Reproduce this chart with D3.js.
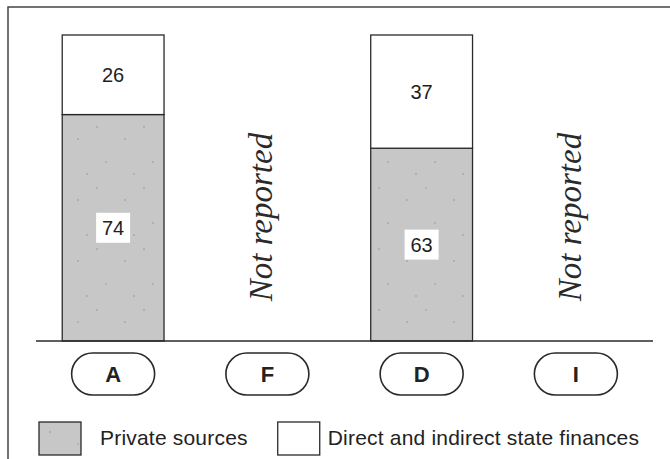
<!DOCTYPE html>
<html>
<head>
<meta charset="utf-8">
<script src="https://cdn.jsdelivr.net/npm/d3@7"></script>
<style>
  html, body { margin: 0; padding: 0; background: #fff; }
  svg { display: block; }
</style>
</head>
<body>
<div id="chart"></div>
<script>
const categories = ['A', 'F', 'D', 'I'];
const privateShare = [74, null, 63, null];
const stateShare = [26, null, 37, null];
const missingLabel = 'Not reported';
const legendLabels = ['Private sources', 'Direct and indirect state finances'];

const W = 670, H = 459;
const ink = '#2a2a2a';
const grey = '#c7c7c7';

const svg = d3.select('#chart').append('svg')
  .attr('width', W).attr('height', H);

// speckled grey fill like the scanned print
const defs = svg.append('defs');
const pat = defs.append('pattern')
  .attr('id', 'speck').attr('patternUnits', 'userSpaceOnUse')
  .attr('width', 47).attr('height', 61);
pat.append('rect').attr('width', 47).attr('height', 61).attr('fill', grey);
[[3, 5], [31, 17], [12, 40], [40, 52]].forEach(([cx, cy]) => {
  pat.append('circle').attr('cx', cx).attr('cy', cy).attr('r', 0.7).attr('fill', '#8a8a8a');
});

// frame (top and left only)
svg.append('path')
  .attr('d', `M8,${H} V7 H${W}`)
  .attr('fill', 'none').attr('stroke', '#444').attr('stroke-width', 1.5);

const x = d3.scaleBand().domain(categories).range([36, 653]);
const y = d3.scaleLinear().domain([0, 100]).range([341, 35]);
const barW = x.bandwidth() * 0.66;

const rows = categories.map((c, i) => ({ cat: c, priv: privateShare[i], state: stateShare[i] }));
const reported = rows.filter(d => d.priv != null);
const missing = rows.filter(d => d.priv == null);

const bx = d => x(d.cat) + (x.bandwidth() - barW) / 2;
const cx = d => x(d.cat) + x.bandwidth() / 2;

// private part
svg.selectAll('.priv').data(reported).join('rect')
  .attr('class', 'priv')
  .attr('x', bx).attr('width', barW)
  .attr('y', d => y(d.priv)).attr('height', d => y(0) - y(d.priv))
  .attr('fill', 'url(#speck)').attr('stroke', ink).attr('stroke-width', 1.3);

// state part
svg.selectAll('.state').data(reported).join('rect')
  .attr('class', 'state')
  .attr('x', bx).attr('width', barW)
  .attr('y', d => y(d.priv + d.state)).attr('height', d => y(d.priv) - y(d.priv + d.state))
  .attr('fill', '#fff').attr('stroke', ink).attr('stroke-width', 1.3);

// value labels
svg.selectAll('.state-lbl').data(reported).join('text')
  .attr('class', 'state-lbl')
  .attr('x', cx)
  .attr('y', d => (y(d.priv) + y(d.priv + d.state)) / 2)
  .attr('dy', '0.36em').attr('text-anchor', 'middle')
  .attr('font-family', 'Liberation Sans, Arial, sans-serif').attr('font-size', 20)
  .attr('fill', '#1e1e1e').text(d => d.state);

svg.selectAll('.priv-box').data(reported).join('rect')
  .attr('class', 'priv-box')
  .attr('x', d => cx(d) - 17)
  .attr('y', d => (y(0) + y(d.priv)) / 2 - 15)
  .attr('width', 34).attr('height', 30).attr('fill', '#fff');

svg.selectAll('.priv-lbl').data(reported).join('text')
  .attr('class', 'priv-lbl')
  .attr('x', cx)
  .attr('y', d => (y(0) + y(d.priv)) / 2)
  .attr('dy', '0.36em').attr('text-anchor', 'middle')
  .attr('font-family', 'Liberation Sans, Arial, sans-serif').attr('font-size', 20)
  .attr('fill', '#1e1e1e').text(d => d.priv);

// not reported
svg.selectAll('.missing').data(missing).join('text')
  .attr('class', 'missing')
  .attr('transform', d => `translate(${cx(d)},217) rotate(-90)`)
  .attr('y', 5).attr('text-anchor', 'middle')
  .attr('font-family', 'Liberation Serif, Times New Roman, serif')
  .attr('font-style', 'italic').attr('font-size', 33)
  .attr('fill', '#2a2a2a').text(missingLabel);

// baseline
svg.append('line')
  .attr('x1', x.range()[0]).attr('x2', x.range()[1])
  .attr('y1', y(0)).attr('y2', y(0))
  .attr('stroke', ink).attr('stroke-width', 1.5);

// category pills
const pill = svg.selectAll('.pill').data(categories).join('g')
  .attr('class', 'pill')
  .attr('transform', d => `translate(${x(d) + x.bandwidth() / 2},374)`);
pill.append('rect')
  .attr('x', -41.5).attr('y', -21).attr('width', 83).attr('height', 42).attr('rx', 21)
  .attr('fill', '#fff').attr('stroke', ink).attr('stroke-width', 1.6);
pill.append('text')
  .attr('text-anchor', 'middle').attr('dy', '0.36em')
  .attr('font-family', 'Liberation Sans, Arial, sans-serif').attr('font-weight', 700)
  .attr('font-size', 22).attr('fill', '#222').text(d => d);

// legend
const legendFills = ['url(#speck)', '#fff'];
const textGap = [61, 50];
let lx = 39;
legendLabels.forEach((lbl, i) => {
  svg.append('rect')
    .attr('x', lx).attr('y', 422).attr('width', 42).attr('height', 33)
    .attr('fill', legendFills[i]).attr('stroke', ink).attr('stroke-width', 1.3);
  const t = svg.append('text')
    .attr('x', lx + textGap[i]).attr('y', 445)
    .attr('font-family', 'Liberation Sans, Arial, sans-serif').attr('font-size', 21)
    .attr('letter-spacing', 0.2).attr('fill', '#222').text(lbl);
  lx = lx + textGap[i] + t.node().getComputedTextLength() + 30;
});
</script>
</body>
</html>
